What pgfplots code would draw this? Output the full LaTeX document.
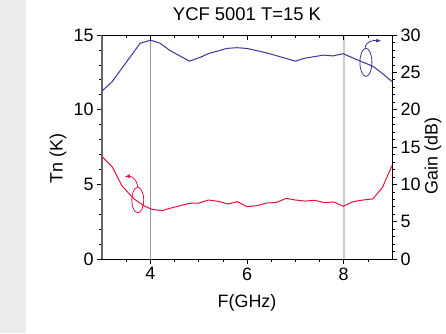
\documentclass[border=0pt]{standalone}
\usepackage{pgfplots}
\pgfplotsset{compat=1.18}
\usepackage{fontspec}
\setmainfont{Liberation Sans}
\definecolor{gainblue}{HTML}{3F3399}
\definecolor{tnred}{HTML}{E8123C}
\definecolor{strip}{HTML}{EBEBEB}
\begin{document}
\begin{tikzpicture}[x=1bp,y=1bp]
\fill[white] (0,0) rectangle (446,333);
\fill[strip] (0,0) rectangle (26,333);
\pgfplotsset{
  common/.style={
    at={(102bp,74bp)}, anchor=south west,
    scale only axis, width=290bp, height=224bp,
    xmin=3, xmax=9,
    /pgf/number format/assume math mode=true,
    ticklabel style={font=\fontsize{18}{20}\selectfont},
    label style={font=\fontsize{18}{20}\selectfont},
    major tick length=5bp, minor tick length=3bp,
    every tick/.style={black, line width=0.6pt},
    axis line style={line width=0.7pt},
  }
}
\begin{axis}[common,
  ymin=0, ymax=15,
  axis x line*=bottom, axis y line*=left,
  tick align=outside,
  xtick={4,6,8},
  minor xtick={3.5,4.5,5,5.5,6.5,7,7.5,8.5},
  ytick={0,5,10,15},
  minor ytick={1,2,3,4,6,7,8,9,11,12,13,14},
  xlabel={F(GHz)}, ylabel={Tn (K)},
  xlabel style={at={(axis description cs:0.5,-0.196)}, anchor=center},
  ylabel style={at={(axis description cs:-0.152,0.448)}, anchor=center, rotate=0},
  title={YCF 5001 T=15 K},
  title style={font=\fontsize{18.5}{20}\selectfont, at={(axis description cs:0.5,1.067)}, anchor=center},
  clip=false,
]
\draw[gray!80, line width=0.8pt] (axis cs:4,0) -- (axis cs:4,15);
\draw[gray!40, line width=1.8pt] (axis cs:8,0) -- (axis cs:8,15);
\draw[gray!120, line width=1.6pt] (axis cs:3,0) -- (axis cs:3,15);
\addplot[tnred, line width=1pt] coordinates {
(3.00,6.85) (3.21,6.18) (3.41,4.91) (3.65,4.06) (3.86,3.57) (4.03,3.33)
(4.24,3.24) (4.48,3.46) (4.81,3.73) (5.01,3.75) (5.20,3.95) (5.41,3.86)
(5.61,3.68) (5.80,3.84) (6.00,3.50) (6.20,3.57) (6.41,3.75) (6.61,3.79)
(6.81,4.06) (7.00,3.95) (7.20,3.88) (7.40,3.93) (7.61,3.77) (7.80,3.82)
(7.99,3.53) (8.20,3.84) (8.40,3.95) (8.60,4.02) (8.80,4.78) (9.00,6.25)
};
\draw[tnred, line width=0.8pt] (axis cs:3.74,3.95) ellipse [x radius=0.124, y radius=0.85];
\draw[tnred, line width=0.8pt, -latex] (axis cs:3.74,4.8) .. controls (axis cs:3.72,5.4) and (axis cs:3.6,5.55) .. (axis cs:3.47,5.52);
\draw[gainblue, line width=0.8pt] (axis cs:8.46,13.17) ellipse [x radius=0.124, y radius=0.94];
\draw[gainblue, line width=0.8pt, -latex] (axis cs:8.44,14.1) .. controls (axis cs:8.46,14.6) and (axis cs:8.6,14.65) .. (axis cs:8.78,14.6);
\end{axis}
\begin{axis}[common,
  ymin=0, ymax=30,
  axis x line*=top, axis y line*=right,
  xtick align=inside, ytick align=outside,
  xtick={4,6,8}, xticklabels={},
  minor xtick={3.5,4.5,5,5.5,6.5,7,7.5,8.5},
  ytick={0,5,10,15,20,25,30},
  minor ytick={1,2,3,4,6,7,8,9,11,12,13,14,16,17,18,19,21,22,23,24,26,27,28,29},
  ylabel={Gain (dB)},
  ylabel style={at={(axis description cs:1.141,0.46)}, anchor=center, rotate=0},
]
\addplot[gainblue, line width=1pt] coordinates {
(3.00,22.5) (3.21,23.75) (3.79,28.9) (4.01,29.3) (4.20,28.9) (4.41,27.9)
(4.81,26.5) (5.03,27.0) (5.20,27.5) (5.58,28.2) (5.79,28.3) (6.00,28.2)
(6.41,27.6) (7.00,26.5) (7.20,26.9) (7.58,27.3) (7.78,27.2) (7.99,27.5)
(8.27,26.7) (8.61,25.8) (8.81,24.8) (9.00,23.75)
};
\end{axis}
\end{tikzpicture}
\end{document}
